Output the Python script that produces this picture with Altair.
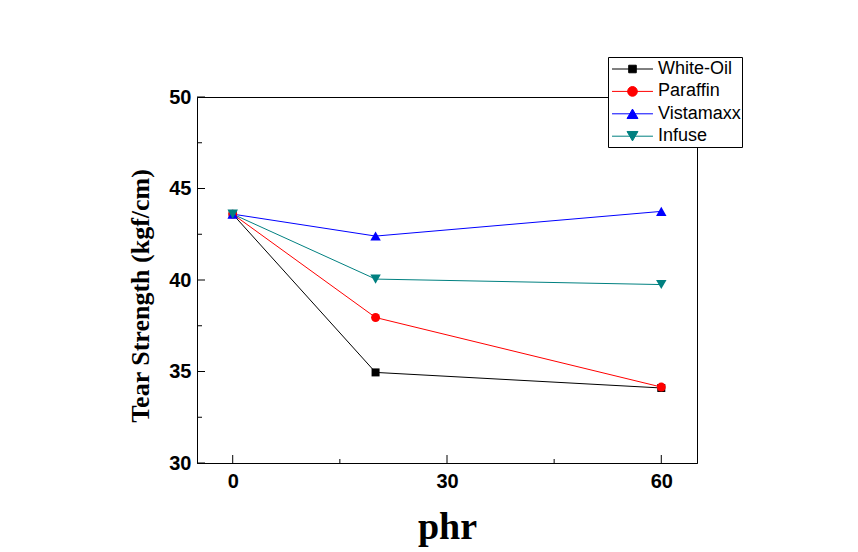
import altair as alt
import pandas as pd

series = ["White-Oil", "Paraffin", "Vistamaxx", "Infuse"]
phr = [0, 20, 60]
white_oil = [43.6, 34.95, 34.1]
paraffin = [43.6, 37.95, 34.15]
vistamaxx = [43.6, 42.4, 43.75]
infuse = [43.6, 40.05, 39.75]
colors = ["#000000", "#FF0000", "#0000FF", "#008080"]
shapes = ["square", "circle", "triangle-up", "triangle-down"]
sizes = [64, 80, 110, 110]
y_major = [30, 35, 40, 45, 50]
y_minor = [32.5, 37.5, 42.5, 47.5]
x_major = [0, 30, 60]
x_minor = [15, 45]

rows = []
for name, vals in zip(series, [white_oil, paraffin, vistamaxx, infuse]):
    for p, v in zip(phr, vals):
        rows.append({"series": name, "phr": p, "ts": v})
df = pd.DataFrame(rows)

xs = alt.Scale(domain=[-5, 65], nice=False, zero=False)
ys = alt.Scale(domain=[30, 50], nice=False, zero=False)

# legend symbols: line with marker
legend_paths = [
    "M-0.76,0H3.14M0.83,-0.36H1.55V0.36H0.83Z",
    "M-0.76,0H3.14M1.65,0A0.46,0.46,0,1,1,0.73,0A0.46,0.46,0,1,1,1.65,0Z",
    "M-0.76,0H3.14M1.19,-0.45L1.71,0.45L0.67,0.45Z",
    "M-0.76,0H3.14M1.19,0.45L1.71,-0.45L0.67,-0.45Z",
]

legend = alt.Legend(
    title=None,
    orient="none",
    legendX=411,
    legendY=-40,
    symbolSize=441,
    symbolStrokeWidth=1,
    symbolOpacity=1,
    symbolFillColor="black",
    symbolStrokeColor="black",
    labelFont="Liberation Sans",
    labelFontSize=18,
    labelColor="black",
    labelOffset=27,
    labelLimit=300,
    padding=1,
    rowPadding=2.4,
    strokeColor="black",
    fillColor="white",
)

xaxis = alt.Axis(
    values=x_major, format="d", grid=False, ticks=True, tickSize=0,
    labelFont="Liberation Sans", labelFontWeight="bold", labelFontSize=20,
    labelColor="black", labelPadding=8,
    domainColor="black", domainWidth=1,
    title="phr", titleFont="Liberation Serif", titleFontWeight="bold",
    titleFontSize=38, titleColor="black", titleX=250, titleY=75,
    titleAlign="center", titleBaseline="alphabetic",
)
yaxis = alt.Axis(
    values=y_major, format="d", grid=False, ticks=True, tickSize=0,
    labelFont="Liberation Sans", labelFontWeight="bold", labelFontSize=20,
    labelColor="black", labelPadding=6,
    domainColor="black", domainWidth=1,
    title="Tear Strength (kgf/cm)", titleFont="Liberation Serif",
    titleFontWeight="bold", titleFontSize=26, titleColor="black",
    titleX=-49, titleY=198.5, titleAngle=270, titleAlign="center",
    titleBaseline="alphabetic",
)

X = alt.X("phr:Q", scale=xs, axis=xaxis)
Y = alt.Y("ts:Q", scale=ys, axis=yaxis)

line_layers = []
point_layers = []
for name, col, shp, sz in zip(series, colors, shapes, sizes):
    base = alt.Chart(df).transform_filter(alt.datum.series == name)
    line_layers.append(
        base.mark_line(strokeWidth=1, color=col).encode(x=X, y=Y, order=alt.Order("phr:Q"))
    )
    point_layers.append(
        base.mark_point(filled=True, opacity=1, shape=shp, size=sz, color=col).encode(x=X, y=Y)
    )

# invisible layer that carries the legend (line-through-marker symbols)
legend_layer = alt.Chart(df).mark_point(size=441, opacity=0).encode(
    x=X,
    y=Y,
    fill=alt.Fill("series:N", scale=alt.Scale(domain=series, range=colors), legend=legend),
    stroke=alt.Stroke("series:N", scale=alt.Scale(domain=series, range=colors), legend=legend),
    shape=alt.Shape("series:N", scale=alt.Scale(domain=series, range=legend_paths), legend=legend),
)

tX = lambda: alt.X("v:Q", scale=xs, axis=xaxis)
tY = lambda: alt.Y("v:Q", scale=ys, axis=yaxis)

ymaj = alt.Chart(pd.DataFrame({"v": y_major})).mark_rule(color="black", strokeWidth=1).encode(
    y=tY(), x=alt.value(0), x2=alt.value(8)
)
ymin = alt.Chart(pd.DataFrame({"v": y_minor})).mark_rule(color="black", strokeWidth=1).encode(
    y=tY(), x=alt.value(0), x2=alt.value(5)
)
xmaj = alt.Chart(pd.DataFrame({"v": x_major})).mark_rule(color="black", strokeWidth=1).encode(
    x=tX(), y=alt.value(366), y2=alt.value(358)
)
xmin = alt.Chart(pd.DataFrame({"v": x_minor})).mark_rule(color="black", strokeWidth=1).encode(
    x=tX(), y=alt.value(366), y2=alt.value(362)
)

chart = alt.layer(*line_layers, *point_layers, legend_layer, ymaj, ymin, xmaj, xmin).properties(
    width=500,
    height=366,
    autosize=alt.AutoSizeParams(type="none"),
    padding={"left": 189, "top": 89, "right": 150, "bottom": 88},
).configure(
    background="white",
    view=alt.ViewConfig(stroke="black", strokeWidth=1),
)

chart.save("out.html", embed_options={"renderer": "svg", "actions": False})
